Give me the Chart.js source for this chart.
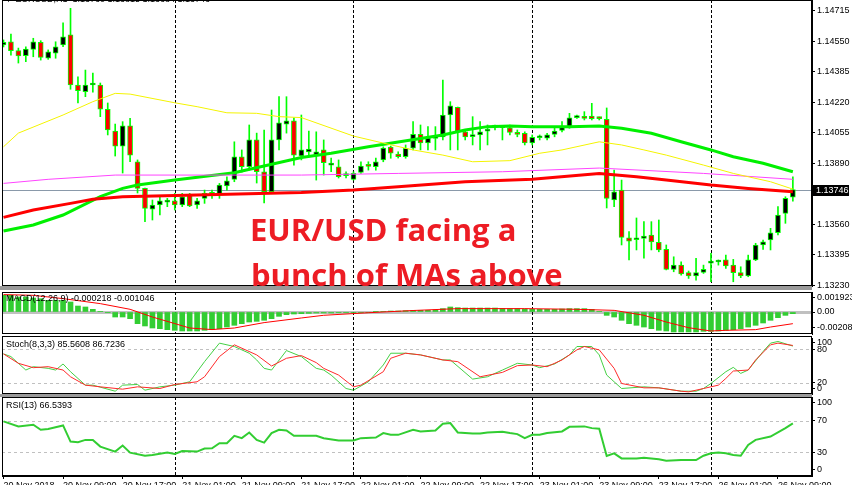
<!DOCTYPE html>
<html>
<head>
<meta charset="utf-8">
<script src="https://cdn.jsdelivr.net/npm/chart.js@4.4.0/dist/chart.umd.min.js"></script>
<style>
  body { margin: 0; background: #fff; width: 852px; height: 485px; overflow: hidden; position: relative; font-family: "Liberation Sans", Arial, sans-serif; }
  canvas { position: absolute; left: 0; }
  .txt { position: absolute; font-size: 9px; line-height: 11px; color: #000; white-space: nowrap; }
  .band { position: absolute; left: 0; width: 812px; background: #9a9a9a; }
  .note { position: absolute; color: #ed1c24; font: bold 31px/31px "Open Sans", sans-serif; white-space: nowrap; }
</style>
</head>
<body>
<canvas id="mainChart" style="top:0" width="852" height="292"></canvas>
<canvas id="macdChart" style="top:286px" width="852" height="54"></canvas>
<canvas id="stochChart" style="top:332px" width="852" height="68"></canvas>
<canvas id="rsiChart" style="top:391px" width="852" height="94"></canvas>
<div class="band" style="top:286px;height:4px"></div>
<div class="band" style="top:394px;height:3px"></div>
<div class="txt" style="left:4px;top:-6px">&#9660; EURUSD,H1&nbsp; 1.13760 1.13815 1.13684 1.13746</div>
<div class="txt" style="left:6px;top:293px">MACD(12,26,9) -0.000218 -0.001046</div>
<div class="txt" style="left:6px;top:339px">Stoch(8,3,3) 85.5608 86.7236</div>
<div class="txt" style="left:6px;top:400px">RSI(13) 66.5393</div>
<div class="note" style="left:250px;top:214px">EUR/USD facing a</div>
<div class="note" style="left:251px;top:259px">bunch of MAs above</div>
<script>
// EURUSD H1, 20 Nov 01:00 .. 26 Nov 11:00 (bar index 0..106)
const opens = [1.14529,1.14546,1.14498,1.14471,1.14505,1.14543,1.14458,1.14484,1.14529,1.14583,
  1.14312,1.14276,1.14312,1.14312,1.14181,1.14063,1.13982,1.14092,1.13897,1.13753,
  1.13641,1.13663,1.13679,1.13686,1.13663,1.13717,1.13663,1.13699,1.13732,1.13717,
  1.13766,1.13802,1.13924,1.13870,1.14015,1.13843,1.13735,1.14015,1.14101,1.14119,
  1.13928,1.13950,1.13928,1.13961,1.13879,1.13870,1.13822,1.13802,1.13840,1.13883,
  1.13870,1.13907,1.13977,1.13939,1.13924,1.13970,1.14045,1.13999,1.14023,1.14032,
  1.14150,1.14192,1.14059,1.14033,1.14042,1.14063,1.14084,1.14082,1.14081,1.14054,
  1.14051,1.13999,1.14027,1.14024,1.14045,1.14067,1.14085,1.14136,1.14143,1.14144,
  1.14134,1.14127,1.13690,1.13744,1.13486,1.13475,1.13483,1.13501,1.13461,1.13423,
  1.13315,1.13338,1.13297,1.13279,1.13299,1.13349,1.13355,1.13366,1.13338,1.13297,
  1.13279,1.13366,1.13447,1.13474,1.13513,1.13618,1.13705];
const highs = [1.14556,1.14588,1.14512,1.14519,1.14565,1.14552,1.14502,1.14546,1.14649,1.14727,
  1.14357,1.14393,1.14377,1.14323,1.14215,1.14101,1.14114,1.14132,1.13907,1.13755,
  1.13690,1.13708,1.13699,1.13726,1.13726,1.13726,1.13699,1.13744,1.13744,1.13780,
  1.13816,1.14005,1.13961,1.14096,1.14052,1.14069,1.14177,1.14249,1.14249,1.14134,
  1.14150,1.14063,1.14059,1.14015,1.13917,1.13907,1.13843,1.13843,1.13897,1.13897,
  1.13917,1.13978,1.13982,1.13951,1.13988,1.14114,1.14096,1.14087,1.14087,1.14339,
  1.14222,1.14193,1.14069,1.14141,1.14114,1.14096,1.14096,1.14090,1.14096,1.14069,
  1.14059,1.14042,1.14042,1.14051,1.14078,1.14114,1.14159,1.14150,1.14168,1.14213,
  1.14139,1.14188,1.13852,1.13798,1.13519,1.13593,1.13573,1.13573,1.13582,1.13447,
  1.13383,1.13356,1.13306,1.13375,1.13338,1.13402,1.13366,1.13392,1.13369,1.13329,
  1.13392,1.13456,1.13474,1.13537,1.13654,1.13708,1.13815];
const lows = [1.14518,1.14474,1.14431,1.14438,1.14465,1.14447,1.14451,1.14457,1.14519,1.14289,
  1.14215,1.14249,1.14274,1.14141,1.14042,1.13928,1.13836,1.13897,1.13728,1.13573,
  1.13582,1.13609,1.13654,1.13636,1.13654,1.13654,1.13645,1.13672,1.13699,1.13699,
  1.13744,1.13789,1.13841,1.13852,1.13782,1.13674,1.13728,1.13961,1.14052,1.13879,
  1.13907,1.13928,1.13798,1.13825,1.13843,1.13809,1.13809,1.13798,1.13834,1.13852,
  1.13852,1.13897,1.13916,1.13917,1.13916,1.13961,1.13961,1.13961,1.13961,1.14015,
  1.13961,1.13961,1.14015,1.13988,1.13961,1.13988,1.14069,1.14015,1.14042,1.14032,
  1.13988,1.13988,1.14015,1.14015,1.14032,1.14059,1.14078,1.14132,1.14123,1.14123,
  1.14123,1.13647,1.13654,1.13447,1.13366,1.13420,1.13375,1.13420,1.13410,1.13312,
  1.13302,1.13284,1.13266,1.13257,1.13293,1.13248,1.13338,1.13320,1.13248,1.13270,
  1.13275,1.13362,1.13423,1.13420,1.13501,1.13564,1.13684];
const closes = [1.14543,1.14498,1.14469,1.14507,1.14546,1.14462,1.14491,1.14519,1.14573,1.14312,
  1.14281,1.14312,1.14321,1.14181,1.14069,1.13982,1.14092,1.13933,1.13753,1.13645,
  1.13663,1.13686,1.13684,1.13663,1.13708,1.13658,1.13686,1.13726,1.13721,1.13771,
  1.13794,1.13924,1.13870,1.14015,1.13843,1.13735,1.14015,1.14107,1.14119,1.13933,
  1.13961,1.13966,1.13951,1.13892,1.13885,1.13816,1.13828,1.13834,1.13874,1.13872,
  1.13897,1.13971,1.13944,1.13924,1.13970,1.14045,1.13999,1.14027,1.14034,1.14150,
  1.14199,1.14059,1.14032,1.14038,1.14059,1.14074,1.14088,1.14087,1.14056,1.14045,
  1.13999,1.14029,1.14031,1.14043,1.14063,1.14090,1.14135,1.14139,1.14132,1.14130,
  1.14130,1.13699,1.13735,1.13488,1.13468,1.13479,1.13495,1.13464,1.13420,1.13315,
  1.13338,1.13290,1.13279,1.13297,1.13315,1.13352,1.13358,1.13333,1.13297,1.13279,
  1.13366,1.13447,1.13464,1.13513,1.13609,1.13699,1.13746];

// moving averages, read at selected bars
const maYellowIdx = [0,2,8,12,15,17,23,26,30,34,37,40,47,51,55,59,63,68,72,75,80,83,86,89,94,98,103,106];
const maYellow = [1.13978,1.14052,1.14150,1.14222,1.14267,1.14263,1.14216,1.14195,1.14162,1.14159,1.14141,1.14136,1.14036,1.13998,
  1.13961,1.13933,1.13897,1.13903,1.13943,1.13961,1.14005,1.13988,1.13961,1.13933,1.13879,1.13834,1.13789,1.13749];
const maGreenIdx = [0,4,8,13,16,18,23,31,40,44,49,53,59,62,65,68,71,76,80,83,87,91,95,98,102,106];
const maGreen = [1.13522,1.13555,1.13609,1.13708,1.13753,1.13771,1.13798,1.13838,1.13920,1.13943,1.13978,1.14004,1.14042,
  1.14069,1.14087,1.14090,1.14087,1.14087,1.14090,1.14078,1.14051,1.14005,1.13961,1.13924,1.13889,1.13843];
const maRedIdx = [0,4,9,12,16,40,47,53,62,71,80,85,89,95,100,106];
const maRed = [1.13596,1.13636,1.13672,1.13694,1.13708,1.13731,1.13744,1.13762,1.13789,1.13802,1.13834,1.13816,1.13798,1.13771,1.13753,1.13735];
const maMagentaIdx = [0,6,15,40,53,67,80,94,106];
const maMagenta = [1.13780,1.13802,1.13825,1.13825,1.13834,1.13843,1.13863,1.13834,1.13802];

// MACD(12,26,9)
const macdHist = [0.00223,0.00223,0.00201,0.00201,0.00187,0.00178,0.00156,0.00156,0.00156,0.00134,
  0.00080,0.00067,0.00036,0.00009,-0.00009,-0.00067,-0.00067,-0.00089,-0.00156,-0.00187,
  -0.00214,-0.00223,-0.00236,-0.00245,-0.00254,-0.00254,-0.00254,-0.00245,-0.00236,-0.00223,
  -0.00201,-0.00178,-0.00156,-0.00134,-0.00125,-0.00111,-0.00089,-0.00058,-0.00036,-0.00027,
  -0.00022,-0.00018,-0.00013,-0.00013,-0.00013,-0.00009,-0.00009,-0.00009,-0.00009,-0.00004,
  0.00004,0.00009,0.00013,0.00013,0.00018,0.00022,0.00022,0.00022,0.00027,0.00045,
  0.00067,0.00058,0.00053,0.00053,0.00053,0.00053,0.00053,0.00049,0.00045,0.00045,
  0.00040,0.00036,0.00036,0.00036,0.00036,0.00040,0.00045,0.00045,0.00045,0.00036,
  0.00009,-0.00045,-0.00067,-0.00111,-0.00156,-0.00178,-0.00201,-0.00223,-0.00245,-0.00254,
  -0.00267,-0.00267,-0.00267,-0.00267,-0.00259,-0.00259,-0.00254,-0.00245,-0.00236,-0.00223,
  -0.00201,-0.00178,-0.00147,-0.00111,-0.00076,-0.00045,-0.00022];
const macdSignalIdx = [0,4,8,13,17,20,23,25,28,31,35,40,43,49,55,61,70,77,82,86,89,92,95,97,101,103,106];
const macdSignal = [0.00233,0.00223,0.00179,0.00112,0.00036,-0.00067,-0.00155,-0.00214,-0.00235,-0.00214,
  -0.00142,-0.0008,-0.00044,-0.0001,0.0002,0.00045,0.00045,0.00036,0.00022,-0.00044,
  -0.00134,-0.0021,-0.00254,-0.00245,-0.00236,-0.00201,-0.00156];

// Stoch(8,3,3)
const stochMainIdx = [0,1,3,4,6,7,8,9,11,12,15,16,18,19,21,23,25,27,29,31,33,34,35,36,38,40,42,43,44,46,
  47,49,51,52,54,56,57,59,60,63,65,67,69,71,72,74,76,77,79,80,81,83,86,88,91,93,94,95,97,98,99,100,102,103,104,106];
const stochMain = [71.6,66.8,42.8,48.8,45.8,42.8,53.6,39.8,15.8,15.8,5.0,15.8,17.0,6.8,12.8,15.8,21.8,57.8,90.8,84.8,
  72.8,60.8,45.8,42.8,77.6,66.8,45.8,42.8,33.8,9.8,6.8,21.8,51.8,72.8,72.8,69.8,66.8,60.8,60.8,26.6,
  30.8,42.8,54.8,51.8,47.0,53.6,69.8,84.8,84.8,69.8,33.8,9.8,12.8,11.0,5.0,5.0,9.8,18.8,39.8,47.6,
  36.8,42.8,75.8,90.8,93.8,85.6];
const stochSignalIdx = [0,2,4,6,8,9,11,13,16,18,21,23,26,27,29,31,34,36,38,40,42,43,45,47,48,51,52,54,56,59,
  61,64,67,69,71,73,75,77,78,80,82,83,86,88,91,92,94,96,97,98,100,101,103,104,106];
const stochSignal = [71.6,54.8,47.0,48.8,42.8,30.8,15.8,12.8,8.6,12.8,9.8,17.0,21.8,30.8,66.8,87.8,69.8,50.0,63.8,68.6,
  56.0,45.8,33.8,12.8,15.8,39.8,63.8,72.8,69.8,60.8,57.8,30.8,38.6,50.6,51.8,48.8,60.8,78.8,84.8,78.8,
  45.8,18.8,11.0,11.0,5.0,3.8,9.8,15.8,27.8,41.0,42.8,60.8,87.8,90.8,86.7];

// RSI(13)
const rsiIdx = [0,2,4,5,6,8,9,10,11,12,13,15,16,17,19,20,22,23,24,26,27,28,29,30,31,32,33,34,35,36,
  37,38,39,42,43,45,47,48,50,51,52,53,55,56,58,59,60,61,63,64,65,67,68,69,70,71,72,73,75,76,
  78,79,80,81,82,83,85,86,88,89,91,93,94,95,96,97,98,99,100,101,103,105,106];
const rsi = [69.1,62.8,64.9,58.5,59.4,64.0,43.6,42.8,45.7,45.7,37.2,30.9,38.5,29.6,25.7,26.6,29.6,27.9,31.7,30.9,
  34.7,35.1,41.5,41.5,50.9,47.9,55.1,45.7,42.3,54.3,58.5,57.7,50.9,50.9,47.9,44.9,44.9,47.9,48.7,54.3,
  52.1,52.1,58.5,56.4,57.7,66.2,67.0,55.1,53.8,53.8,55.1,56.0,54.3,53.0,47.9,52.1,52.1,54.3,56.4,62.3,
  62.8,60.6,59.8,25.3,28.7,22.3,22.3,23.2,21.1,19.4,20.2,20.2,25.7,28.7,29.6,28.7,26.6,25.7,39.4,45.7,
  50.0,60.6,66.5];

// axes (the terminal pulls its edge labels inside the window)
const priceTicks = [1.14715,1.14550,1.14385,1.14220,1.14055,1.13890,1.13725,1.13560,1.13395,1.13230];
const macdTicks = [0.001923, 0, -0.002089];
const macdTickLabels = ['0.001923', '0.00', '-0.002089'];
const stochTickPos = [92.8, 80, 20, 9];
const stochTickLabels = ['100', '80', '20', '0'];
const stochLevels = [80, 20];
const rsiTickPos = [92.6, 70, 30, 7.7];
const rsiTickLabels = ['100', '70', '30', '0'];
const rsiLevels = [70, 30];
const timeTickIdx = [0,8,16,24,32,40,48,56,64,72,80,88,96,104];
const timeLabels = ['20 Nov 2018','20 Nov 09:00','20 Nov 17:00','21 Nov 01:00','21 Nov 09:00','21 Nov 17:00',
  '22 Nov 01:00','22 Nov 09:00','22 Nov 17:00','23 Nov 01:00','23 Nov 09:00','23 Nov 17:00',
  '26 Nov 01:00','26 Nov 09:00'];
const daySeparators = [23, 47, 71, 95];

const FONT = '"Liberation Sans", Arial, sans-serif';
const X_MIN = -0.2, X_MAX = 108.57;
const bars = opens.map((o, i) => i);
const lastClose = closes[closes.length - 1];

Chart.defaults.font.family = FONT;
Chart.defaults.font.size = 9;
Chart.defaults.color = '#000';

function pts(idx, vals) {
  return idx.map((x, k) => ({ x: x, y: vals[k] }));
}

function xAxis(show) {
  const ax = {
    type: 'linear', min: X_MIN, max: X_MAX, offset: false, display: show,
    grid: { display: show, drawOnChartArea: false, drawTicks: true, tickLength: 3, color: '#000', offset: false },
    border: { display: true, color: '#000' }
  };
  if (show) {
    ax.ticks = { autoSkip: false, maxRotation: 0, minRotation: 0, align: 'start', padding: 1,
      callback: (v, i) => timeLabels[i] };
    ax.afterBuildTicks = s => { s.ticks = timeTickIdx.map(v => ({ value: v })); };
    ax.afterFit = s => { s.height = 9; s.paddingLeft = 0; s.paddingRight = 0; };
  }
  return ax;
}

function yAxis(min, max, ticks, fmt) {
  return {
    position: 'right', min: min, max: max, beginAtZero: false,
    grid: { drawOnChartArea: false, tickLength: 3, color: '#000' },
    border: { display: true, color: '#000' },
    ticks: { autoSkip: false, padding: 2, callback: fmt },
    afterBuildTicks: s => { s.ticks = ticks.map(v => ({ value: v })); },
    afterFit: s => { s.width = 40; s.paddingTop = 0; s.paddingBottom = 0; }
  };
}

// separators, level lines and frames
const panelPlugin = {
  id: 'panel',
  beforeDatasetsDraw(chart, args, opts) {
    const { ctx, chartArea: a, scales } = chart;
    ctx.save();
    ctx.beginPath();
    ctx.rect(a.left, a.top, a.right - a.left, a.bottom - a.top);
    ctx.clip();
    if (opts.zero) {
      const y = scales.y.getPixelForValue(0);
      ctx.fillStyle = '#c0c0c0';
      ctx.fillRect(a.left, Math.round(y) - 1, a.right - a.left, 3);
    }
    ctx.lineWidth = 1;
    ctx.strokeStyle = '#c0c0c0';
    ctx.setLineDash([3, 3]);
    (opts.levels || []).forEach(v => {
      const y = Math.round(scales.y.getPixelForValue(v)) + 0.5;
      ctx.beginPath(); ctx.moveTo(a.left, y); ctx.lineTo(a.right, y); ctx.stroke();
    });
    if (opts.price) {
      ctx.setLineDash([]);
      ctx.strokeStyle = '#8a99aa';
      const y = Math.round(scales.y.getPixelForValue(opts.price)) + 0.5;
      ctx.beginPath(); ctx.moveTo(a.left, y); ctx.lineTo(a.right, y); ctx.stroke();
    }
    ctx.strokeStyle = '#000';
    ctx.setLineDash([3, 2]);
    daySeparators.forEach(i => {
      const x = Math.round(scales.x.getPixelForValue(i)) + 0.5;
      ctx.beginPath(); ctx.moveTo(x, a.top); ctx.lineTo(x, a.bottom); ctx.stroke();
    });
    ctx.restore();
  },
  afterDraw(chart, args, opts) {
    const { ctx, chartArea: a, scales } = chart;
    const out = opts.outset || 0;
    ctx.save();
    ctx.strokeStyle = '#000';
    ctx.lineWidth = 1;
    ctx.strokeRect(a.left + 0.5, a.top + 0.5 - out, a.right - a.left - 1, a.bottom - a.top - 1 + out);
    if (opts.price) {
      const y = Math.round(scales.y.getPixelForValue(opts.price));
      ctx.fillStyle = '#000';
      ctx.fillRect(a.right + 1, y - 5, 36, 11);
      ctx.fillStyle = '#fff';
      ctx.font = '9px ' + FONT;
      ctx.textBaseline = 'middle';
      ctx.fillText(opts.price.toFixed(5), a.right + 4, y + 0.5);
    }
    ctx.restore();
  }
};

function baseOptions(pad, scales, panel) {
  return {
    responsive: false, animation: false, events: [],
    layout: { padding: { left: 2, right: 0, top: pad[0], bottom: pad[1] } },
    plugins: { legend: { display: false }, tooltip: { enabled: false }, panel: panel },
    scales: scales
  };
}

// price window
new Chart(document.getElementById('mainChart'), {
  type: 'bar',
  data: {
    datasets: [
      { type: 'line', data: pts(maYellowIdx, maYellow), borderColor: '#f4f400', borderWidth: 1, pointRadius: 0, order: 0 },
      { type: 'line', data: pts(maMagentaIdx, maMagenta), borderColor: '#ff44ff', borderWidth: 1, pointRadius: 0, order: 0 },
      { type: 'line', data: pts(maRedIdx, maRed), borderColor: '#ff0000', borderWidth: 3, pointRadius: 0, order: 0 },
      { type: 'line', data: pts(maGreenIdx, maGreen), borderColor: '#00f000', borderWidth: 3, pointRadius: 0, order: 0 },
      { type: 'bar', data: bars.map(i => ({ x: i, y: [opens[i], closes[i]] })),
        backgroundColor: bars.map(i => closes[i] >= opens[i] ? '#000000' : '#ff0000'),
        borderColor: '#00ff00', borderWidth: 1, borderSkipped: false, barThickness: 5, minBarLength: 2, grouped: false, order: 1 },
      { type: 'bar', data: bars.map(i => ({ x: i, y: [lows[i], highs[i]] })),
        backgroundColor: '#00ff00', barThickness: 1, grouped: false, order: 2 }
    ]
  },
  options: baseOptions([0, 6], {
    x: xAxis(false),
    y: yAxis(1.13225, 1.14772, priceTicks, v => v.toFixed(5))
  }, { price: lastClose }),
  plugins: [panelPlugin]
});

// MACD window
new Chart(document.getElementById('macdChart'), {
  type: 'bar',
  data: {
    datasets: [
      { type: 'line', data: pts(macdSignalIdx, macdSignal), borderColor: '#ff0000', borderWidth: 1, pointRadius: 0, order: 0 },
      { type: 'bar', data: bars.map(i => ({ x: i, y: macdHist[i] })), backgroundColor: '#32cd32',
        barThickness: 5, grouped: false, order: 1 }
    ]
  },
  options: baseOptions([6, 6], {
    x: xAxis(false),
    y: yAxis(-0.002942, 0.002675, macdTicks, (v, i) => macdTickLabels[i])
  }, { zero: true }),
  plugins: [panelPlugin]
});

// Stochastic window
new Chart(document.getElementById('stochChart'), {
  type: 'line',
  data: {
    datasets: [
      { data: pts(stochSignalIdx, stochSignal), borderColor: '#ff2a2a', borderWidth: 1, pointRadius: 0 },
      { data: pts(stochMainIdx, stochMain), borderColor: '#44d044', borderWidth: 1, pointRadius: 0 }
    ]
  },
  options: baseOptions([6, 6], {
    x: xAxis(false),
    y: yAxis(0, 100, stochTickPos, (v, i) => stochTickLabels[i])
  }, { levels: stochLevels, outset: 2 }),
  plugins: [panelPlugin]
});

// RSI window with the time axis
new Chart(document.getElementById('rsiChart'), {
  type: 'line',
  data: {
    datasets: [
      { data: pts(rsiIdx, rsi), borderColor: '#32cd32', borderWidth: 2, pointRadius: 0 }
    ]
  },
  options: baseOptions([6, 0], {
    x: xAxis(true),
    y: yAxis(0, 100, rsiTickPos, (v, i) => rsiTickLabels[i])
  }, { levels: rsiLevels }),
  plugins: [panelPlugin]
});
</script>
</body>
</html>
